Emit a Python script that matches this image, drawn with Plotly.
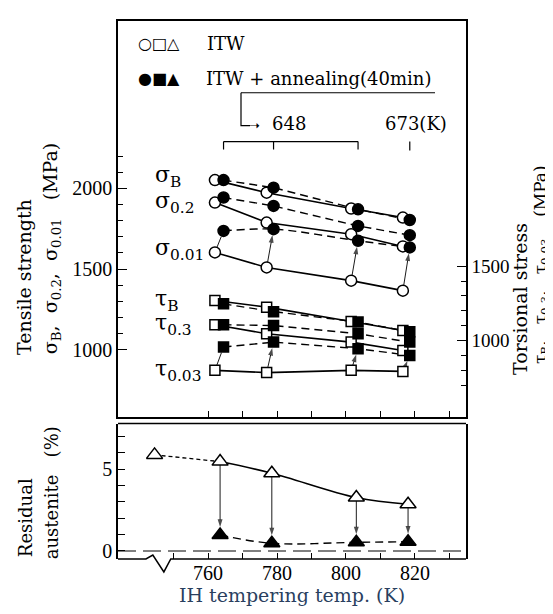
import plotly.graph_objects as go

# ---------------- data ----------------
temp_itw = [762, 777, 801.5, 816.5]      # open symbols, top panel (K)
temp_ann = [764.5, 779, 803.5, 818.5]    # filled symbols, top panel (K)
temp_ra = [763.5, 778.5, 803, 818]       # residual austenite points (K)
temp_asq = [744.5]                       # point left of the axis break

sigB_itw = [2051, 1973, 1875, 1819]
sigB_ann = [2051, 2004, 1870, 1804]
sig02_itw = [1912, 1788, 1716, 1640]
sig02_ann = [1943, 1891, 1767, 1710]
sig001_itw = [1603, 1510, 1428, 1366]
sig001_ann = [1736, 1747, 1675, 1634]

tauB_itw = [1269, 1225, 1129, 1069]
tauB_ann = [1247, 1195, 1125, 1060]
tau03_itw = [1107, 1047, 991, 935]
tau03_ann = [1107, 1102, 1047, 991]
tau003_itw = [802, 787, 802, 795]
tau003_ann = [958, 991, 947, 902]

ra_asq = [5.88]
ra_itw = [5.47, 4.76, 3.27, 2.86]
ra_ann = [0.98, 0.47, 0.53, 0.57]

x_ticks = [760, 780, 800, 820]
x_minor = [750, 770, 790, 810, 830]
x_ticks_top = [770, 790, 810, 830]
sig_ticks = [1000, 1500, 2000]
sig_minor = [1100, 1200, 1300, 1400, 1600, 1700, 1800, 1900, 2100, 2200]
tau_ticks = [1000, 1500]
tau_minor = [700, 800, 900, 1100, 1200, 1300, 1400]
ra_ticks = [0, 5]
ra_minor = [1, 2, 3, 4, 6, 7]
anneal_labels = ["648", "673(K)"]

# ---------------- layout geometry ----------------
W, H = 553, 614
L, R, T, B = 110, 95, 11, 63
PW, PH = W - L - R, H - T - B
X_RANGE = [733.9, 834.8]
SIG_RANGE = [586, 3037]
TAU_RANGE = [493, 3140]
RA_RANGE = [-0.49, 7.8]


def px(xp):
    return (xp - L) / PW


def py(yp):
    return (H - B - yp) / PH


def tx(t):  # temperature -> paper x
    return (t - X_RANGE[0]) / (X_RANGE[1] - X_RANGE[0])


SERIF = "Liberation Serif, DejaVu Serif, serif"
WIDE = "DejaVu Serif, Noto Sans CJK JP, serif"
SYM = "DejaVu Sans, sans-serif"
DASH = "8px,5px"
NB = "\u00a0"

fig = go.Figure()


def add_line(x, y, xa, ya, dash="solid", shape="linear", width=1.6):
    fig.add_trace(go.Scatter(x=x, y=y, xaxis=xa, yaxis=ya, mode="lines",
                             line=dict(color="black", width=width, dash=dash, shape=shape),
                             hoverinfo="skip", showlegend=False))


def add_marks(x, y, xa, ya, symbol, filled, size=10):
    fig.add_trace(go.Scatter(x=x, y=y, xaxis=xa, yaxis=ya, mode="markers",
                             marker=dict(symbol=symbol, size=size,
                                         color="black" if filled else "white",
                                         line=dict(color="black", width=1.5)),
                             hoverinfo="skip", showlegend=False))


def add_arrow(xt, yt, xh, yh, xa, ya, head=True, so=6):
    fig.add_trace(go.Scatter(x=[xt, xh], y=[yt, yh], xaxis=xa, yaxis=ya,
                             mode="lines+markers", line=dict(color="black", width=0.9),
                             marker=dict(symbol="arrow", size=[0, 8 if head else 0],
                                         angleref="previous", standoff=[0, so],
                                         color="black", line=dict(width=0)),
                             hoverinfo="skip", showlegend=False))


# lines first
for yi, ya_ in [(sigB_itw, sigB_ann), (sig02_itw, sig02_ann)]:
    add_line(temp_itw, yi, "x2", "y2")
    add_line(temp_ann, ya_, "x2", "y2", dash=DASH, width=1.4)
add_line(temp_itw, sig001_itw, "x2", "y2")
add_line(temp_ann, sig001_ann, "x2", "y2", dash=DASH, shape="spline", width=1.4)
for yi, ya_ in [(tauB_itw, tauB_ann), (tau03_itw, tau03_ann), (tau003_itw, tau003_ann)]:
    add_line(temp_itw, yi, "x2", "y3")
    add_line(temp_ann, ya_, "x2", "y3", dash=DASH, width=1.4)

add_line(temp_asq + temp_ra[:1], ra_asq + ra_itw[:1], "x", "y", dash="4px,3px", width=1.3)
add_line(temp_ra, ra_itw, "x", "y", shape="spline")
add_line(temp_ra, ra_ann, "x", "y", dash=DASH, shape="spline", width=1.4)

# arrows: ITW -> ITW + annealing
for i in range(4):
    add_arrow(temp_itw[i], sig001_itw[i], temp_ann[i], sig001_ann[i], "x2", "y2", i > 0, 6)
    add_arrow(temp_itw[i], tau003_itw[i], temp_ann[i], tau003_ann[i], "x2", "y3", i > 0, 6)
    add_arrow(temp_ra[i], ra_itw[i], temp_ra[i], ra_ann[i], "x", "y", True, 8)

# markers
for ys in [sigB_itw, sig02_itw, sig001_itw]:
    add_marks(temp_itw, ys, "x2", "y2", "circle", False, 11)
for ys in [sigB_ann, sig02_ann, sig001_ann]:
    add_marks(temp_ann, ys, "x2", "y2", "circle", True, 11)
for ys in [tauB_itw, tau03_itw, tau003_itw]:
    add_marks(temp_itw, ys, "x2", "y3", "square", False, 10)
for ys in [tauB_ann, tau03_ann, tau003_ann]:
    add_marks(temp_ann, ys, "x2", "y3", "square", True, 10)
add_marks(temp_asq + temp_ra, ra_asq + ra_itw, "x", "y", "triangle-up", False, 14)
add_marks(temp_ra, ra_ann, "x", "y", "triangle-up", True, 14)

ann = []


def text(t, x, y, size=17, family=WIDE, xanchor="center", yanchor="middle",
         xref="paper", yref="paper", angle=0, yshift=0):
    ann.append(dict(text=t, x=x, y=y, xref=xref, yref=yref, showarrow=False,
                    xanchor=xanchor, yanchor=yanchor, textangle=angle, yshift=yshift,
                    font=dict(family=family, size=size, color="black")))


# series labels
lab_x = 744.0
text("σ<sub>B</sub>", lab_x, sigB_itw[0], 22, WIDE, "left", xref="x2", yref="y2", yshift=4)
text("σ<sub>0.2</sub>", lab_x, sig02_itw[0], 22, WIDE, "left", xref="x2", yref="y2")
text("σ<sub>0.01</sub>", lab_x, sig001_itw[0], 22, WIDE, "left", xref="x2", yref="y2", yshift=3)
text("τ<sub>B</sub>", lab_x, tauB_itw[0], 22, WIDE, "left", xref="x2", yref="y3")
text("τ<sub>0.3</sub>", lab_x, tau03_itw[0], 22, WIDE, "left", xref="x2", yref="y3")
text("τ<sub>0.03</sub>", lab_x, tau003_itw[0], 22, WIDE, "left", xref="x2", yref="y3")

# legend
text("○□△", px(151), py(34), 16, SYM)
text("ITW", px(197), py(34), 18, WIDE, "left")
text("●■▲", px(151), py(69), 16, SYM)
text("ITW + annealing(40min)", px(196), py(69), 18, WIDE, "left")
text(anneal_labels[0], px(262), py(114), 18, WIDE, "left")
text(anneal_labels[1], px(375), py(114), 18, WIDE, "left")
text("➝", px(246), py(116), 13, SYM)

# axis titles
sig_title = ("σ<sub>B</sub>," + NB * 2 + "σ<sub>0.2</sub>," + NB * 2 + "σ<sub>0.01</sub>"
             + NB * 3 + "(MPa)")
tau_title = ("τ<sub>B</sub>," + NB * 3 + "τ<sub>0.3</sub>," + NB * 3 + "τ<sub>0.03</sub>"
             + NB * 4 + "(MPa)")
text("Tensile strength", px(16), py(268), 19, WIDE, angle=-90)
text(sig_title, px(43), py(240), 19, WIDE, angle=-90)
text("Torsional stress", px(512), py(290), 19, WIDE, angle=-90)
text(tau_title, px(533), py(256), 17, WIDE, angle=-90)
text("Residual", px(17), py(510), 18, WIDE, angle=-90)
text("austenite" + NB * 3 + "(%)", px(43), py(485), 18, WIDE, angle=-90)

# shapes
shapes = []
ln = dict(color="black", width=1.2)
shapes.append(dict(type="line", xref="paper", yref="paper", x0=px(233), x1=px(427),
                   y0=py(83), y1=py(83), line=ln))
shapes.append(dict(type="path", xref="paper", yref="paper",
                   path=f"M {px(233):.5f},{py(83):.5f} L {px(233):.5f},{py(116):.5f} "
                        f"L {px(242):.5f},{py(116):.5f}", line=ln))
shapes.append(dict(type="line", xref="x2", yref="paper", x0=temp_ann[0], x1=temp_ann[2],
                   y0=py(132), y1=py(132), line=ln))
for t in temp_ann[:3]:
    shapes.append(dict(type="line", xref="x2", yref="paper", x0=t, x1=t,
                       y0=py(132), y1=py(140), line=ln))
shapes.append(dict(type="line", xref="x2", yref="paper", x0=temp_ann[3], x1=temp_ann[3],
                   y0=py(132), y1=py(141), line=ln))
# bottom panel frame: top edge + bottom edge with axis break
ybot = py(551)
shapes.append(dict(type="line", xref="paper", yref="paper", x0=0, x1=1,
                   y0=py(415), y1=py(415), line=dict(color="black", width=1.5)))
zig = [(0, ybot), (tx(742), ybot), (tx(744), py(547)), (tx(747.2), py(564)),
       (tx(749.2), ybot), (1, ybot)]
path = "M " + " L ".join(f"{a:.5f},{b:.5f}" for a, b in zig)
shapes.append(dict(type="path", xref="paper", yref="paper", path=path,
                   line=dict(color="black", width=1.5)))
shapes.append(dict(type="line", xref="paper", yref="y", x0=0, x1=1, y0=0, y1=0,
                   line=dict(color="black", width=1.2, dash="18px,7px")))

tickfont = dict(family=SERIF, size=20, color="black")
tickfont_r = dict(family=SERIF, size=19, color="black")
fig.update_layout(
    width=W, height=H, margin=dict(l=L, r=R, t=T, b=B),
    paper_bgcolor="white", plot_bgcolor="white", showlegend=False,
    xaxis=dict(domain=[0, 1], range=X_RANGE, anchor="y", tickmode="array",
               tickvals=x_ticks, ticktext=[str(v) for v in x_ticks], ticks="inside",
               ticklen=6, tickcolor="black", showline=False, showgrid=False,
               zeroline=False, tickfont=tickfont,
               minor=dict(tickmode="array", tickvals=x_minor, ticks="inside", ticklen=6,
                          tickcolor="black"),
               title=dict(text="IH tempering temp." + NB + "(K)",
                          font=dict(family=WIDE, size=19), standoff=3)),
    yaxis=dict(domain=[0, py(415)], range=RA_RANGE, anchor="x", tickmode="array",
               tickvals=ra_ticks, ticktext=[str(v) for v in ra_ticks], ticks="inside",
               ticklen=7, tickcolor="black", showline=True, mirror=True, linecolor="black",
               linewidth=1.5, showgrid=False, zeroline=False, tickfont=tickfont,
               minor=dict(tickmode="array", tickvals=ra_minor, ticks="inside", ticklen=7,
                          tickcolor="black")),
    xaxis2=dict(domain=[0, 1], range=X_RANGE, anchor="y2", matches="x", tickmode="array",
                tickvals=x_ticks, ticks="inside", ticklen=6, tickcolor="black",
                showticklabels=False, showline=True, mirror=True, linecolor="black",
                linewidth=1.5, showgrid=False, zeroline=False,
                minor=dict(tickmode="array", tickvals=x_ticks_top, ticks="inside",
                           ticklen=6, tickcolor="black")),
    yaxis2=dict(domain=[py(408), 1], range=SIG_RANGE, anchor="x2", tickmode="array",
                tickvals=sig_ticks, ticktext=[str(v) for v in sig_ticks], ticks="inside",
                ticklen=9, tickcolor="black", showline=True, linecolor="black",
                linewidth=1.5, showgrid=False, zeroline=False, tickfont=tickfont,
                minor=dict(tickmode="array", tickvals=sig_minor, ticks="inside",
                           ticklen=5, tickcolor="black")),
    yaxis3=dict(range=TAU_RANGE, overlaying="y2", side="right", anchor="x2",
                tickmode="array", tickvals=tau_ticks, ticktext=[str(v) for v in tau_ticks],
                ticks="inside", ticklen=9, tickcolor="black", showline=True,
                linecolor="black", linewidth=1.5, showgrid=False, zeroline=False,
                tickfont=tickfont_r,
                minor=dict(tickmode="array", tickvals=tau_minor, ticks="inside",
                           ticklen=5, tickcolor="black")),
    annotations=ann, shapes=shapes,
)

fig.write_html("out.html")
